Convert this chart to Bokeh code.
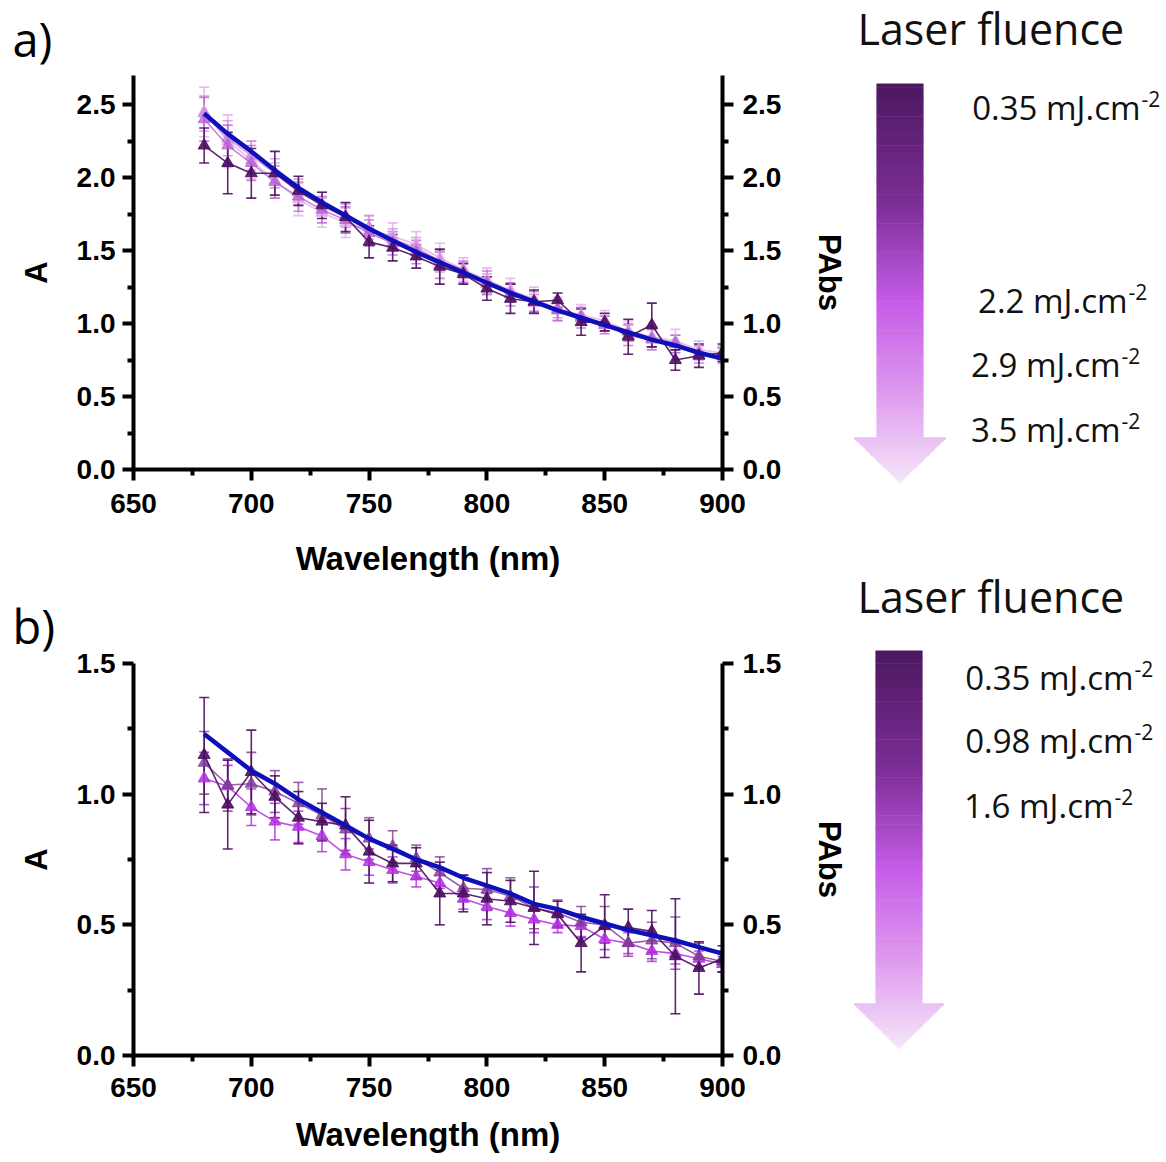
import numpy as np
from bokeh.plotting import figure
from bokeh.models import (Range1d, LinearAxis, FixedTicker, Whisker, TeeHead,
                          ColumnDataSource, PrintfTickFormatter)
from bokeh.layouts import column, row
from bokeh.embed import file_html
from bokeh.resources import INLINE
from bokeh.core.properties import value

# ---------------- data ----------------
wavelength = [680, 690, 700, 710, 720, 730, 740, 750, 760, 770, 780, 790,
              800, 810, 820, 830, 840, 850, 860, 870, 880, 890, 900]

x_ticks = [650, 700, 750, 800, 850, 900]
x_minor = [675, 725, 775, 825, 875]

# panel a
fit_a = [2.44, 2.30, 2.18, 2.05, 1.93, 1.83, 1.74, 1.65, 1.57, 1.49, 1.42, 1.35,
         1.28, 1.21, 1.15, 1.09, 1.04, 0.99, 0.94, 0.89, 0.85, 0.80, 0.76]
a_035 = [2.22, 2.10, 2.03, 2.03, 1.91, 1.81, 1.73, 1.56, 1.52, 1.46, 1.39, 1.34,
         1.24, 1.17, 1.15, 1.16, 1.01, 1.01, 0.91, 0.99, 0.75, 0.78, 0.80]
a_035_err = [0.12, 0.21, 0.17, 0.15, 0.10, 0.09, 0.10, 0.11, 0.09, 0.08, 0.12, 0.07,
             0.08, 0.10, 0.08, 0.05, 0.09, 0.06, 0.12, 0.15, 0.07, 0.08, 0.06]
a_22 = [2.40, 2.22, 2.10, 1.97, 1.87, 1.78, 1.71, 1.62, 1.55, 1.49, 1.40, 1.35,
        1.28, 1.20, 1.15, 1.09, 1.04, 0.99, 0.92, 0.89, 0.86, 0.79, 0.78]
a_22_err = [0.15, 0.14, 0.12, 0.11, 0.10, 0.09, 0.09, 0.09, 0.08, 0.08, 0.09, 0.07,
            0.08, 0.08, 0.07, 0.07, 0.07, 0.06, 0.07, 0.07, 0.06, 0.06, 0.05]
a_29 = [2.44, 2.27, 2.15, 2.03, 1.90, 1.82, 1.74, 1.66, 1.58, 1.52, 1.43, 1.37,
        1.27, 1.21, 1.14, 1.10, 1.05, 1.00, 0.94, 0.90, 0.87, 0.80, 0.79]
a_29_err = [0.12, 0.12, 0.10, 0.10, 0.09, 0.08, 0.08, 0.08, 0.07, 0.07, 0.07, 0.06,
            0.07, 0.06, 0.06, 0.06, 0.06, 0.05, 0.06, 0.06, 0.05, 0.05, 0.05]
a_35 = [2.45, 2.25, 2.12, 1.98, 1.85, 1.76, 1.69, 1.64, 1.60, 1.54, 1.45, 1.37,
        1.30, 1.23, 1.17, 1.10, 1.06, 1.02, 0.95, 0.91, 0.88, 0.82, 0.80]
a_35_err = [0.17, 0.18, 0.13, 0.12, 0.11, 0.10, 0.10, 0.10, 0.09, 0.09, 0.10, 0.08,
            0.08, 0.08, 0.08, 0.08, 0.07, 0.07, 0.07, 0.07, 0.08, 0.06, 0.05]
a_y_ticks = [0.0, 0.5, 1.0, 1.5, 2.0, 2.5]
a_y_minor = [0.25, 0.75, 1.25, 1.75, 2.25]
a_labels = ["0.35 mJ.cm", "2.2 mJ.cm", "2.9 mJ.cm", "3.5 mJ.cm"]

# panel b
fit_b = [1.23, 1.16, 1.09, 1.04, 0.98, 0.93, 0.88, 0.83, 0.79, 0.75, 0.72, 0.68,
         0.65, 0.62, 0.58, 0.56, 0.53, 0.505, 0.48, 0.46, 0.44, 0.415, 0.39]
b_035 = [1.15, 0.96, 1.085, 0.99, 0.91, 0.895, 0.88, 0.78, 0.735, 0.735, 0.62, 0.62,
         0.60, 0.59, 0.565, 0.54, 0.43, 0.495, 0.49, 0.475, 0.38, 0.335, 0.37]
b_035_err = [0.22, 0.17, 0.16, 0.08, 0.10, 0.07, 0.11, 0.12, 0.07, 0.06, 0.12, 0.07,
             0.10, 0.08, 0.14, 0.05, 0.11, 0.12, 0.07, 0.08, 0.22, 0.10, 0.05]
b_098 = [1.12, 1.035, 1.04, 1.01, 0.965, 0.92, 0.865, 0.83, 0.80, 0.755, 0.70, 0.64,
         0.635, 0.61, 0.565, 0.545, 0.51, 0.50, 0.43, 0.44, 0.43, 0.38, 0.36]
b_098_err = [0.12, 0.10, 0.12, 0.08, 0.08, 0.10, 0.08, 0.08, 0.06, 0.05, 0.06, 0.05,
             0.08, 0.07, 0.08, 0.05, 0.06, 0.07, 0.05, 0.07, 0.10, 0.05, 0.04]
b_16 = [1.06, 1.03, 0.95, 0.895, 0.875, 0.84, 0.77, 0.74, 0.71, 0.685, 0.66, 0.60,
        0.57, 0.545, 0.52, 0.50, 0.495, 0.445, 0.43, 0.40, 0.39, 0.37, 0.35]
b_16_err = [0.10, 0.08, 0.07, 0.07, 0.06, 0.06, 0.06, 0.05, 0.05, 0.04, 0.05, 0.04,
            0.05, 0.05, 0.05, 0.03, 0.04, 0.04, 0.04, 0.04, 0.04, 0.03, 0.03]
b_y_ticks = [0.0, 0.5, 1.0, 1.5]
b_y_minor = [0.25, 0.75, 1.25]
b_labels = ["0.35 mJ.cm", "0.98 mJ.cm", "1.6 mJ.cm"]

AX_FONT = "Liberation Sans"
LEG_FONT = "Open Sans"
FIT_COLOR = "#0d10b8"


def style_axis(ax, label_standoff, tick_standoff, label_size):
    ax.axis_line_width = 4
    ax.axis_line_color = "black"
    ax.major_tick_line_width = 4
    ax.minor_tick_line_width = 4
    ax.major_tick_line_color = "black"
    ax.minor_tick_line_color = "black"
    ax.major_tick_in = 0
    ax.major_tick_out = 11
    ax.minor_tick_in = 0
    ax.minor_tick_out = 6
    ax.major_label_text_font = AX_FONT
    ax.major_label_text_font_style = "bold"
    ax.major_label_text_font_size = "28px"
    ax.major_label_text_color = "black"
    ax.major_label_standoff = tick_standoff
    ax.axis_label_text_font = AX_FONT
    ax.axis_label_text_font_style = "bold"
    ax.axis_label_text_font_size = label_size
    ax.axis_label_text_color = "black"
    ax.axis_label_standoff = label_standoff


def make_panel(height, top, bottom, ymax, yt, ym, fit, series, letter,
               letter_standoff, xstand):
    p = figure(width=850, height=height, x_range=Range1d(650, 900),
               y_range=Range1d(0, ymax), output_backend="svg",
               toolbar_location=None, min_border_left=133, min_border_right=127,
               min_border_top=top, min_border_bottom=bottom, frame_align=False)
    p.xgrid.visible = False
    p.ygrid.visible = False
    p.outline_line_color = None
    p.background_fill_color = "white"
    p.border_fill_color = "white"

    p.title.text = letter
    p.title.align = "left"
    p.title.offset = -121
    p.title.standoff = letter_standoff
    p.title.text_font = LEG_FONT
    p.title.text_font_style = "normal"
    p.title.text_font_size = "47px"
    p.title.text_color = "black"

    p.xaxis.ticker = FixedTicker(ticks=x_ticks, minor_ticks=x_minor)
    p.xaxis.axis_label = "Wavelength (nm)"
    style_axis(p.xaxis[0], xstand[1], xstand[0], "33px")

    p.yaxis.ticker = FixedTicker(ticks=yt, minor_ticks=ym)
    p.yaxis.formatter = PrintfTickFormatter(format="%.1f")
    p.yaxis.axis_label = "A"
    style_axis(p.yaxis[0], 20, 7, "31px")

    ra = LinearAxis(ticker=FixedTicker(ticks=yt, minor_ticks=ym),
                    formatter=PrintfTickFormatter(format="%.1f"), axis_label="PAbs")
    style_axis(ra, 28, 9, "31px")
    p.add_layout(ra, "right")

    for vals, errs, color, alpha in series:
        src = ColumnDataSource(dict(
            x=wavelength, y=vals,
            upper=[v + e for v, e in zip(vals, errs)],
            lower=[v - e for v, e in zip(vals, errs)]))
        w = Whisker(source=src, base="x", upper="upper", lower="lower",
                    dimension="height", line_color=color, line_width=1.6,
                    line_alpha=alpha,
                    upper_head=TeeHead(size=10, line_color=color, line_width=1.6,
                                       line_alpha=alpha),
                    lower_head=TeeHead(size=10, line_color=color, line_width=1.6,
                                       line_alpha=alpha))
        p.add_layout(w)
        p.line("x", "y", source=src, line_color=color, line_width=1.6,
               line_alpha=alpha)
        p.scatter("x", "y", source=src, marker="triangle", size=12,
                  fill_color=color, line_color=color, fill_alpha=alpha,
                  line_alpha=alpha)

    p.line(wavelength, fit, line_color=FIT_COLOR, line_width=4.5)
    return p


GRAD = [(0.0, (76, 24, 96)), (0.30, (124, 46, 150)), (0.55, (198, 92, 232)),
        (0.78, (222, 155, 238)), (1.0, (245, 230, 250))]


def grad_color(t):
    for (t0, c0), (t1, c1) in zip(GRAD[:-1], GRAD[1:]):
        if t <= t1:
            f = (t - t0) / (t1 - t0)
            c = [int(round(a + (b - a) * f)) for a, b in zip(c0, c1)]
            return "#%02x%02x%02x" % tuple(c)
    return "#%02x%02x%02x" % GRAD[-1][1]


def make_legend(height, title_base, arrow, labels, right_x, bases):
    L = figure(width=316, height=height, x_range=Range1d(0, 316),
               y_range=Range1d(height, 0), output_backend="svg",
               toolbar_location=None, x_axis_location=None,
               y_axis_location=None, min_border=0, frame_align=False)
    L.xgrid.visible = False
    L.ygrid.visible = False
    L.outline_line_color = None
    L.background_fill_color = "white"
    L.border_fill_color = "white"

    L.text(x=[7], y=[title_base], text=["Laser fluence"],
           text_font=value(LEG_FONT), text_font_size="43px",
           text_color="#111111", text_baseline="alphabetic")

    x0, x1, ytop, yhead, hx0, hx1, ytip = arrow
    n = 220
    edges = np.linspace(ytop, ytip, n + 1)
    cx = (hx0 + hx1) / 2.0
    hw = (hx1 - hx0) / 2.0
    lefts, rights, tops, bots, cols = [], [], [], [], []
    for i in range(n):
        a, b = edges[i], edges[i + 1]
        m = (a + b) / 2.0
        if m <= yhead:
            l, r = x0, x1
        else:
            w = hw * (ytip - m) / (ytip - yhead)
            l, r = cx - w, cx + w
        lefts.append(l)
        rights.append(r)
        tops.append(a)
        bots.append(b + 0.7)
        cols.append(grad_color((m - ytop) / (ytip - ytop)))
    L.quad(left=lefts, right=rights, top=tops, bottom=bots, fill_color=cols,
           line_color=None)

    L.text(x=right_x, y=bases, text=labels, text_font=value(LEG_FONT),
           text_font_size="33px", text_color="#111111", text_align="right",
           text_baseline="alphabetic")
    L.text(x=[r + 1 for r in right_x], y=[b - 9 for b in bases],
           text=["-2"] * len(labels), text_font=value(LEG_FONT),
           text_font_size="21px", text_color="#111111", text_align="left",
           text_baseline="alphabetic")
    return L


series_a = [(a_35, a_35_err, "#e2ade9", 0.8), (a_29, a_29_err, "#cf8ae0", 0.8),
            (a_22, a_22_err, "#b45ed0", 0.75), (a_035, a_035_err, "#4b1060", 0.9)]
series_b = [(b_16, b_16_err, "#b530e0", 0.85), (b_098, b_098_err, "#7e3a94", 0.8),
            (b_035, b_035_err, "#4b1060", 0.9)]

fa = make_panel(586, 74, 117, 2.7, a_y_ticks, a_y_minor, fit_a, series_a,
                "a)", 9, (13, 24))
fb = make_panel(576, 75, 107, 1.5, b_y_ticks, b_y_minor, fit_b, series_b,
                "b)", 11, (11, 16))

la = make_legend(560, 28, (26, 73, 83, 437, 3, 96, 482), a_labels,
                 [290, 277, 270, 270], [107, 300, 364, 429])
lb = make_legend(602, 36, (25, 72, 90, 442, 2, 95, 488), b_labels,
                 [283, 283, 263], [117, 180, 245])

layout = row(column(fa, fb), column(la, lb))
open("out.html", "w").write(file_html(layout, INLINE))
